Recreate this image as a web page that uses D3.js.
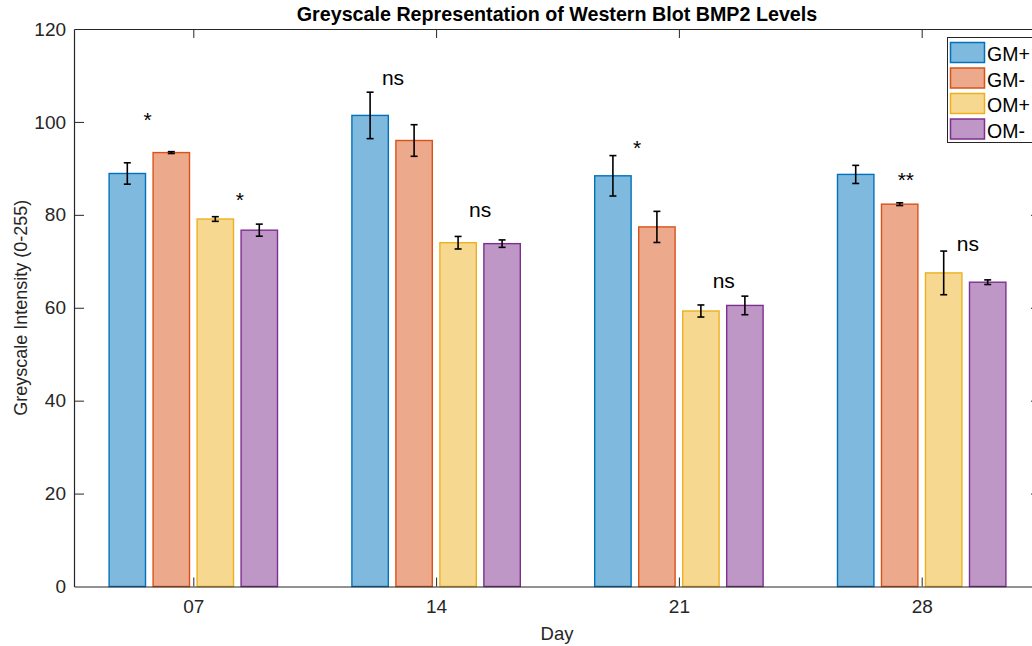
<!DOCTYPE html>
<html>
<head>
<meta charset="utf-8">
<script src="https://cdn.jsdelivr.net/npm/d3@7"></script>
<style>
  html, body { margin: 0; padding: 0; background: #fff; }
  svg { display: block; font-family: "Liberation Sans", Arial, sans-serif; }
</style>
</head>
<body>
<svg id="chart" width="1032" height="646"></svg>
<script>
// Days sampled and treatment groups
const days = ["07", "14", "21", "28"];
const groups = ["GM+", "GM-", "OM+", "OM-"];

// Mean greyscale intensity per group, one entry per day
const gmPlus  = [88.9, 101.4, 88.4, 88.7];
const gmMinus = [93.4, 96.0, 77.4, 82.3];
const omPlus  = [79.1, 74.0, 59.3, 67.5];
const omMinus = [76.7, 73.8, 60.5, 65.5];

// Error half-widths (same order)
const gmPlusErr  = [2.3, 5.0, 4.35, 1.95];
const gmMinusErr = [0.2, 3.4, 3.35, 0.3];
const omPlusErr  = [0.5, 1.35, 1.3, 4.7];
const omMinusErr = [1.3, 0.8, 2.0, 0.5];

const yTicks = [0, 20, 40, 60, 80, 100, 120];

// Significance labels: day, slot within the group (0..3 = bar index), label height
const sigLabels = ["*", "*", "ns", "ns", "*", "ns", "**", "ns"];
const sigDays   = [0, 0, 1, 1, 2, 2, 3, 3];
const sigSlots  = [0.46, 2.56, 0.52, 2.5, 0.55, 2.52, 1.14, 2.55];
const sigValues = [98.8, 81.6, 108.0, 79.6, 92.9, 64.2, 85.9, 72.3];

const seriesValues = [gmPlus, gmMinus, omPlus, omMinus];
const seriesErrors = [gmPlusErr, gmMinusErr, omPlusErr, omMinusErr];

const fills   = ["#80B9DE", "#ECA98C", "#F6D890", "#BF97C7"];
const strokes = ["#0072BD", "#D95319", "#EDB120", "#7E2F8E"];
const axisColor = "#262626";

const svg = d3.select("#chart");
const plotTop = 29, plotBottom = 586.5;

// Day index 0..3 -> pixel; limits a touch inside +/-0.5 as in the grouped bar layout
const xLo = -0.4913, xHi = 3.4913;
const x = d3.scaleLinear().domain([0, 3]).range([193.3, 921.7]);
const plotLeft = x(xLo), plotRight = x(xHi);
const barStep = 0.1812, barWidth = 0.15;   // in day units
const unit = x(1) - x(0);
const y = d3.scaleLinear().domain([0, 120]).range([plotBottom, plotTop]);

const rows = [];
days.forEach((d, i) => {
  groups.forEach((g, j) => {
    rows.push({ di: i, gi: j, value: seriesValues[j][i], err: seriesErrors[j][i] });
  });
});
const cx = r => x(r.di + (r.gi - 1.5) * barStep);

// Bars
svg.append("g").selectAll("rect").data(rows).join("rect")
  .attr("x", r => cx(r) - barWidth * unit / 2)
  .attr("width", barWidth * unit)
  .attr("y", r => y(r.value))
  .attr("height", r => y(0) - y(r.value))
  .attr("fill", r => fills[r.gi])
  .attr("stroke", r => strokes[r.gi])
  .attr("stroke-width", 1.4);

// Error bars
const eb = svg.append("g").attr("stroke", "#000").attr("stroke-width", 1.6);
eb.selectAll("line.v").data(rows).join("line").attr("class", "v")
  .attr("x1", cx).attr("x2", cx)
  .attr("y1", r => y(r.value + r.err)).attr("y2", r => y(r.value - r.err));
eb.selectAll("line.t").data(rows).join("line").attr("class", "t")
  .attr("x1", r => cx(r) - 3.5).attr("x2", r => cx(r) + 3.5)
  .attr("y1", r => y(r.value + r.err)).attr("y2", r => y(r.value + r.err));
eb.selectAll("line.b").data(rows).join("line").attr("class", "b")
  .attr("x1", r => cx(r) - 3.5).attr("x2", r => cx(r) + 3.5)
  .attr("y1", r => y(r.value - r.err)).attr("y2", r => y(r.value - r.err));

// Axes box
const xAxis = d3.scaleLinear().domain([xLo, xHi]).range([plotLeft, plotRight]);
const dayIdx = d3.range(days.length);
svg.append("g").attr("transform", `translate(0,${plotBottom})`)
  .call(d3.axisBottom(xAxis).tickValues(dayIdx).tickFormat(i => days[i]).tickSizeInner(-9).tickSizeOuter(0).tickPadding(13));
svg.append("g").attr("transform", `translate(0,${plotTop})`)
  .call(d3.axisTop(xAxis).tickValues(dayIdx).tickFormat("").tickSizeInner(-9).tickSizeOuter(0));

const gy = svg.append("g").attr("transform", `translate(${plotLeft},0)`)
  .call(d3.axisLeft(y).tickValues(yTicks).tickSizeInner(-10).tickSizeOuter(0).tickPadding(8));
gy.selectAll(".tick").filter(d => d === 0 || d === 120).select("line").remove();

const gyR = svg.append("g").attr("transform", `translate(${plotRight},0)`)
  .call(d3.axisRight(y).tickValues(yTicks).tickFormat("").tickSizeInner(-10).tickSizeOuter(0));
gyR.selectAll(".tick").filter(d => d === 0 || d === 120).select("line").remove();

svg.selectAll(".domain").attr("stroke", axisColor).attr("stroke-width", 1.2);
svg.selectAll(".tick line").attr("stroke", axisColor);
svg.selectAll(".tick text").attr("fill", axisColor).style("font-size", "19px")
  .style("font-family", "'Liberation Sans', Arial, sans-serif");

// Significance annotations
svg.append("g").selectAll("text").data(sigLabels).join("text")
  .attr("x", (s, i) => x(sigDays[i] + (sigSlots[i] - 1.5) * barStep))
  .attr("y", (s, i) => y(sigValues[i]))
  .attr("text-anchor", "middle")
  .attr("fill", "#000")
  .style("font-size", "21px")
  .text(s => s);

// Title and axis labels
svg.append("text").attr("x", 557).attr("y", 20.5)
  .attr("text-anchor", "middle").attr("font-weight", "bold").style("font-size", "19.7px")
  .attr("fill", "#000").text("Greyscale Representation of Western Blot BMP2 Levels");
svg.append("text").attr("x", 557).attr("y", 640)
  .attr("text-anchor", "middle").style("font-size", "18.5px").attr("fill", axisColor).text("Day");
svg.append("text").attr("transform", `translate(27,${(plotTop + plotBottom) / 2}) rotate(-90)`)
  .attr("text-anchor", "middle").style("font-size", "18px").attr("fill", axisColor)
  .text("Greyscale Intensity (0-255)");

// Legend
const lg = svg.append("g").attr("transform", "translate(947.5,37.5)");
lg.append("rect").attr("width", 90).attr("height", 105).attr("fill", "#fff")
  .attr("stroke", axisColor).attr("stroke-width", 1);
groups.forEach((g, j) => {
  lg.append("rect").attr("x", 3).attr("y", 5 + j * 25.5).attr("width", 34).attr("height", 20)
    .attr("fill", fills[j]).attr("stroke", strokes[j]).attr("stroke-width", 1.5);
  lg.append("text").attr("x", 39.5).attr("y", 23.5 + j * 25.5).style("font-size", "19.5px")
    .attr("fill", "#000").text(g);
});
</script>
</body>
</html>
